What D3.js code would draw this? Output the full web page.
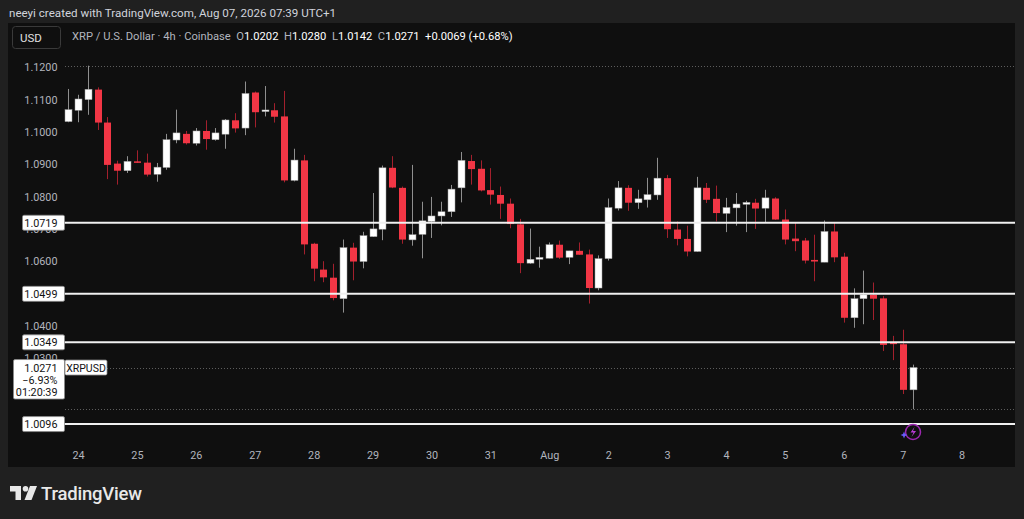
<!DOCTYPE html>
<html><head><meta charset="utf-8">
<script src="https://cdn.jsdelivr.net/npm/d3@7"></script>
<style>html,body{margin:0;padding:0;background:#202020;overflow:hidden}svg{display:block}text{white-space:pre}</style>
</head><body><svg id="c" width="1024" height="519"></svg>
<script>
// ---- data (4h candles, XRP / U.S. Dollar, Coinbase) ----
const opens  = [1.1032,1.1067,1.1100,1.1131,1.1029,1.0902,1.0880,1.0909,1.0905,1.0869,1.0890,1.0975,1.0994,1.0965,1.1003,1.0976,1.0993,1.1036,1.1012,1.1122,1.1063,1.1067,1.1048,1.0850,1.0912,1.0654,1.0574,1.0549,1.0484,1.0642,1.0599,1.0676,1.0699,1.0889,1.0827,1.0666,1.0683,1.0723,1.0740,1.0753,1.0827,1.0910,1.0886,1.0820,1.0805,1.0778,1.0714,1.0594,1.0606,1.0609,1.0651,1.0612,1.0632,1.0621,1.0517,1.0608,1.0764,1.0827,1.0781,1.0790,1.0805,1.0857,1.0698,1.0669,1.0630,1.0827,1.0793,1.0748,1.0765,1.0776,1.0781,1.0764,1.0794,1.0729,1.0670,1.0664,1.0604,1.0597,1.0692,1.0614,1.0425,1.0484,1.0496,1.0485,1.0348,1.0343,1.0202];
const highs  = [1.1133,1.1115,1.1205,1.1138,1.1046,1.0911,1.0925,1.0943,1.0933,1.0904,1.0994,1.1069,1.1003,1.1012,1.1036,1.1012,1.1040,1.1058,1.1156,1.1125,1.1142,1.1089,1.1127,1.0948,1.0929,1.0657,1.0600,1.0592,1.0667,1.0657,1.0691,1.0811,1.0896,1.0925,1.0831,1.0898,1.0784,1.0799,1.0784,1.0836,1.0938,1.0929,1.0912,1.0888,1.0831,1.0794,1.0731,1.0701,1.0645,1.0658,1.0664,1.0632,1.0658,1.0636,1.0618,1.0794,1.0848,1.0835,1.0821,1.0858,1.0920,1.0867,1.0723,1.0710,1.0861,1.0842,1.0834,1.0796,1.0811,1.0787,1.0793,1.0821,1.0798,1.0760,1.0720,1.0672,1.0682,1.0726,1.0719,1.0626,1.0516,1.0571,1.0534,1.0492,1.0369,1.0388,1.0280];
const lows   = [1.1030,1.1030,1.1053,1.1006,1.0854,1.0837,1.0873,1.0904,1.0862,1.0846,1.0883,1.0965,1.0961,1.0958,1.0945,1.0973,1.0948,1.0998,1.0990,1.1014,1.1048,1.1029,1.0844,1.0847,1.0621,1.0538,1.0535,1.0479,1.0441,1.0541,1.0578,1.0675,1.0665,1.0826,1.0654,1.0648,1.0609,1.0672,1.0711,1.0737,1.0782,1.0837,1.0816,1.0775,1.0731,1.0702,1.0563,1.0592,1.0580,1.0609,1.0607,1.0591,1.0620,1.0469,1.0510,1.0602,1.0757,1.0756,1.0762,1.0766,1.0790,1.0672,1.0649,1.0615,1.0629,1.0780,1.0723,1.0690,1.0710,1.0690,1.0700,1.0719,1.0728,1.0652,1.0631,1.0593,1.0538,1.0597,1.0597,1.0410,1.0394,1.0405,1.0418,1.0322,1.0294,1.0189,1.0142];
const closes = [1.1069,1.1102,1.1132,1.1029,1.0898,1.0880,1.0909,1.0905,1.0868,1.0891,1.0976,1.0997,1.0965,1.1003,1.0978,1.0997,1.1037,1.1011,1.1119,1.1061,1.1068,1.1047,1.0850,1.0913,1.0652,1.0577,1.0550,1.0486,1.0642,1.0599,1.0679,1.0700,1.0889,1.0828,1.0667,1.0682,1.0725,1.0740,1.0753,1.0823,1.0912,1.0885,1.0819,1.0806,1.0778,1.0715,1.0594,1.0606,1.0612,1.0651,1.0611,1.0632,1.0620,1.0517,1.0608,1.0766,1.0827,1.0781,1.0793,1.0806,1.0857,1.0699,1.0669,1.0630,1.0827,1.0790,1.0749,1.0766,1.0777,1.0782,1.0763,1.0796,1.0729,1.0667,1.0662,1.0602,1.0599,1.0692,1.0612,1.0425,1.0484,1.0496,1.0484,1.0341,1.0344,1.0202,1.0271];
const firstBarTime = "2026-07-23T20:00:00Z";
const axisEndTime = "2026-08-08T00:00:00Z";
const priceTicks = [1.12,1.11,1.10,1.09,1.08,1.07,1.06,1.04,1.03];
const levelPrices = [1.0719,1.0499,1.0349,1.0096];
const lastPrice = 1.0271, changePct = "\u22126.93%", countdown = "01:20:39";
const rangeHigh = 1.1205, rangeLow = 1.0142;
const headerTitle = "neeyi created with TradingView.com, Aug 07, 2026 07:39 UTC+1";
const symbolTitle = "XRP / U.S. Dollar \u00b7 4h \u00b7 Coinbase";
const ohlcLabels = ["O","H","L","C"];
const ohlcValues = ["1.0202","1.0280","1.0142","1.0271"];
const changeText = "+0.0069 (+0.68%)";

// ---- drawing ----
const FONT = "Roboto, 'Liberation Sans', sans-serif";
const svg = d3.select("#c");
const panel = {x:8, y:23, w:1007, h:444};
svg.append("rect").attr("width",1024).attr("height",519).attr("fill","#202020");
svg.append("rect").attr("x",panel.x).attr("y",panel.y).attr("width",panel.w).attr("height",panel.h).attr("fill","#0f0f0f");
svg.append("clipPath").attr("id","pc").append("rect").attr("x",panel.x).attr("y",panel.y).attr("width",panel.w).attr("height",panel.h);

const t0 = new Date(firstBarTime);
const times = opens.map((_,i)=>d3.utcHour.offset(t0, 4*i));
const candles = times.map((t,i)=>({t, o:opens[i], h:highs[i], l:lows[i], c:closes[i]}));

const x = d3.scaleUtc().domain([t0, new Date(axisEndTime)]).range([68.2, 961.6]);
const y = d3.scaleLinear().domain([1.01, 1.12]).range([422.8, 67.3]);

// header
svg.append("text").attr("x",9).attr("y",16.5).attr("fill","#d1d4dc").attr("font-family",FONT).attr("font-size",11.6).text(headerTitle);
svg.append("rect").attr("x",12.5).attr("y",26.5).attr("width",48).attr("height",22).attr("rx",3).attr("fill","none").attr("stroke","#3a3a3a");
svg.append("text").attr("x",20).attr("y",41.5).attr("fill","#e0e0e0").attr("font-family",FONT).attr("font-size",11.5).text("USD");
const hdr = svg.append("text").attr("x",72).attr("y",40).attr("font-family",FONT).attr("font-size",11.2).attr("fill","#b2b5be");
hdr.append("tspan").text(symbolTitle + "  ");
ohlcLabels.forEach((k,i)=>{
  hdr.append("tspan").attr("fill","#b2b5be").text(k);
  hdr.append("tspan").attr("fill","#ffffff").text(ohlcValues[i] + "  ");
});
hdr.append("tspan").attr("fill","#ffffff").text(changeText);

const g = svg.append("g").attr("clip-path","url(#pc)");

// price axis (left, inside panel)
const yAxis = d3.axisLeft(y).tickValues(priceTicks).tickFormat(d3.format(".4f")).tickSize(0).tickPadding(0);
const ya = svg.append("g").attr("transform","translate(57.5,0)").call(yAxis);
ya.select(".domain").remove();
ya.selectAll("text").attr("fill","#b2b5be").attr("font-family",FONT).attr("font-size",10.8);

// time axis
const xAxis = d3.axisBottom(x).ticks(d3.utcDay.every(1))
  .tickFormat(d => d.getUTCDate()===1 ? "Aug" : String(d.getUTCDate())).tickSize(0).tickPadding(0);
const xa = svg.append("g").attr("transform","translate(0,451)").call(xAxis);
xa.select(".domain").remove();
xa.selectAll("text").attr("fill","#b2b5be").attr("font-family",FONT).attr("font-size",10.8);

// dotted range high / low and last price lines
[[rangeHigh,65],[rangeLow,65],[lastPrice,107]].forEach(([p,x0])=>{
  g.append("line").attr("x1",x0).attr("x2",panel.x+panel.w).attr("y1",Math.round(y(p))+0.5).attr("y2",Math.round(y(p))+0.5)
   .attr("stroke","#5d5d5d").attr("stroke-width",1).attr("stroke-dasharray","1,2");
});

// candles
const bw = 7;
const cg = g.append("g");
cg.selectAll("line.w").data(candles).join("line").attr("class","w")
  .attr("x1",d=>Math.round(x(d.t))+0.5).attr("x2",d=>Math.round(x(d.t))+0.5)
  .attr("y1",d=>y(d.h)).attr("y2",d=>y(d.l))
  .attr("stroke",d=>d.c>=d.o?"#8f8f8f":"#a3202d").attr("stroke-width",1);
cg.selectAll("rect.b").data(candles).join("rect").attr("class","b")
  .attr("x",d=>Math.round(x(d.t))+0.5-bw/2).attr("width",bw)
  .attr("y",d=>y(Math.max(d.o,d.c))).attr("height",d=>Math.max(1.5, Math.abs(y(d.o)-y(d.c))))
  .attr("fill",d=>d.c>=d.o?"#ffffff":"#f23645")
  .attr("stroke",d=>d.c>=d.o?"#9a9a9a":"none").attr("stroke-width",0.5);

// horizontal level lines
g.selectAll("line.lvl").data(levelPrices).join("line").attr("class","lvl")
  .attr("x1",64).attr("x2",panel.x+panel.w).attr("y1",d=>y(d)).attr("y2",d=>y(d))
  .attr("stroke","#f0f0f0").attr("stroke-width",2);

// level labels
const lv = svg.selectAll("g.lv").data(levelPrices).join("g").attr("class","lv")
  .attr("transform",d=>`translate(0,${y(d)})`);
lv.append("rect").attr("x",22.5).attr("y",-7.5).attr("width",42).attr("height",15).attr("rx",1.5)
  .attr("fill","#ffffff").attr("stroke","#8a8a8a").attr("stroke-width",0.8);
lv.append("text").attr("x",57.5).attr("y",4).attr("text-anchor","end").attr("fill","#131313")
  .attr("font-family",FONT).attr("font-size",10.8).text(d=>d3.format(".4f")(d));

// last price label
const ly = y(lastPrice);
const lp = svg.append("g");
lp.append("rect").attr("x",13.5).attr("y",ly-8).attr("width",51).attr("height",39.5).attr("rx",1.5)
  .attr("fill","#ffffff").attr("stroke","#8a8a8a").attr("stroke-width",0.8);
[[d3.format(".4f")(lastPrice),0],[changePct,12],[countdown,24]].forEach(([s,dy])=>{
  lp.append("text").attr("x",57.5).attr("y",ly+4+dy).attr("text-anchor","end").attr("fill","#131313")
    .attr("font-family",FONT).attr("font-size",10.8).text(s);
});
lp.append("rect").attr("x",65).attr("y",ly-7.5).attr("width",42).attr("height",15).attr("rx",1.5)
  .attr("fill","#ffffff").attr("stroke","#8a8a8a").attr("stroke-width",0.8);
lp.append("text").attr("x",86).attr("y",ly+4).attr("text-anchor","middle").attr("fill","#131313")
  .attr("font-family",FONT).attr("font-size",10.5).text("XRPUSD");

// purple lightning badge near last bar
const bx = x(times[times.length-1]) + 0.5, by = 432;
const bd = svg.append("g").attr("transform",`translate(${bx},${by})`);
bd.append("circle").attr("r",7.5).attr("fill","none").attr("stroke","#9c27b0").attr("stroke-width",1.5);
bd.append("path").attr("d","M1.5,-5 L-2.5,0.5 L0.5,0.5 L-1.5,5 L3,-1 L0,-1 Z").attr("fill","#ba3bd6");
bd.append("path").attr("d","M-9,-0.5 L-8,2 L-5.5,3 L-8,4 L-9,6.5 L-10,4 L-12.5,3 L-10,2 Z").attr("fill","#6a5cff");

// TradingView logo
const lg = svg.append("g").attr("transform","translate(10,486)").attr("fill","#e8e8e8");
lg.append("path").attr("d","M0,0 H11 V14 H5.5 V5.5 H0 Z");
lg.append("circle").attr("cx",15.5).attr("cy",2.8).attr("r",2.8);
lg.append("path").attr("d","M20,0 H27 L21.5,14 H14.5 Z");
svg.append("text").attr("x",41).attr("y",500).attr("fill","#e8e8e8").attr("font-family",FONT)
  .attr("font-weight",500).attr("font-size",18.5).attr("letter-spacing",-0.2).text("TradingView");
</script></body></html>
